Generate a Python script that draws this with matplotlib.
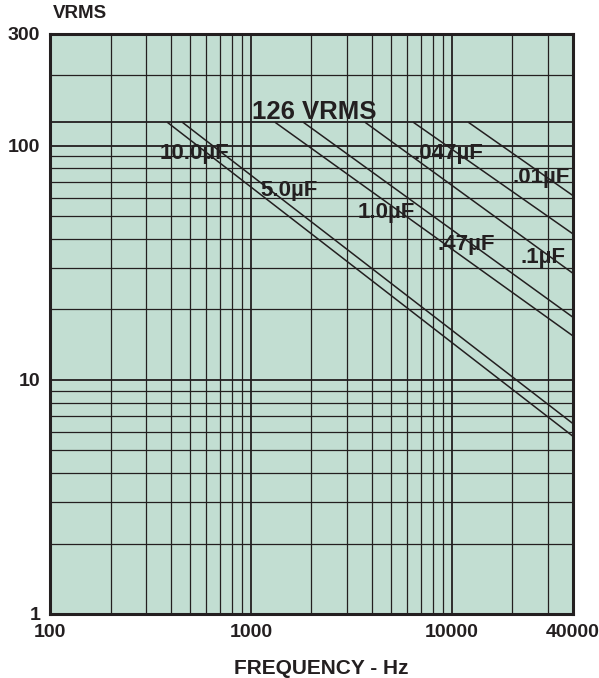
import matplotlib
matplotlib.use("Agg")
import matplotlib.pyplot as plt

plt.rcParams['font.family'] = ['Liberation Sans', 'DejaVu Sans']
plt.rcParams['font.weight'] = 'bold'

# capacitor lines: start at 126 VRMS, run to 40 kHz
caps = ['10.0µF', '5.0µF', '1.0µF', '.47µF', '.1µF', '.047µF', '.01µF']
f_start = [383, 455, 1316, 1820, 3690, 6415, 12050]
v_end = [5.74, 6.5, 15.4, 18.5, 28.5, 42.0, 61.2]
v_max = 126
f_max = 40000

# label anchors (left, baseline) in data coords
label_f = [352, 1109, 3407, 8515, 21800, 6400, 19900]
label_v = [88.0, 61.2, 49.3, 36.0, 31.7, 88.0, 69.5]

x_grid = [200, 300, 400, 500, 600, 700, 800, 900, 1000,
          2000, 3000, 4000, 5000, 6000, 7000, 8000, 9000, 10000,
          20000, 30000]
y_grid = [2, 3, 4, 5, 6, 7, 8, 9, 10, 20, 30, 40, 50, 60, 70, 80, 90, 100,
          126, 200]
x_ticks = [100, 1000, 10000, 40000]
y_ticks = [1, 10, 100, 300]

ink = '#231f20'
bg = '#c2ded2'

fig = plt.figure(figsize=(5.99, 6.78), dpi=100)
ax = fig.add_axes([50/599, 1-614/678, 523/599, 580/678])
ax.set_xscale('log')
ax.set_yscale('log')
ax.set_xlim(100, 40000)
ax.set_ylim(1, 300)
ax.set_facecolor(bg)

for x in x_grid:
    lw = 1.3 if x in (1000, 10000) else 0.9
    ax.axvline(x, color=ink, lw=lw, zorder=1)
for y in y_grid:
    lw = 1.3 if y in (10, 100, 126) else 0.9
    ax.axhline(y, color=ink, lw=lw, zorder=1)

for f0, ve in zip(f_start, v_end):
    ax.plot([f0, f_max], [v_max, ve], color=ink, lw=1.1, zorder=2,
            solid_capstyle='butt')

for name, lf, lv in zip(caps, label_f, label_v):
    ax.text(lf, lv, name, fontsize=16, fontweight='bold', color=ink,
            ha='left', va='baseline', zorder=3)
ax.text(1012, 130.4, '126 VRMS', fontsize=18.5, fontweight='bold', color=ink,
        ha='left', va='baseline', zorder=3)

ax.set_xticks(x_ticks)
ax.set_xticklabels([str(t) for t in x_ticks])
ax.set_yticks(y_ticks)
ax.set_yticklabels([str(t) for t in y_ticks])
ax.minorticks_off()
ax.tick_params(length=0, labelsize=14, colors=ink, pad=7)
for lab in ax.get_xticklabels() + ax.get_yticklabels():
    lab.set_fontweight('bold')

for s in ax.spines.values():
    s.set_linewidth(2.2)
    s.set_color(ink)
    s.set_zorder(4)

fig.text(321/599, 1-668/678, 'FREQUENCY - Hz', ha='center', va='center',
         fontsize=15, fontweight='bold', color=ink)
fig.text(53/599, 1-14/678, 'VRMS', ha='left', va='center',
         fontsize=13.5, fontweight='bold', color=ink)

fig.savefig('out.png', dpi=100)
